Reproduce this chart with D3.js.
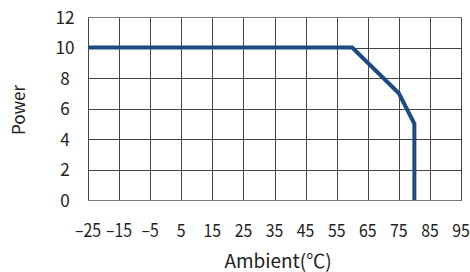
<!DOCTYPE html>
<html>
<head>
<meta charset="utf-8">
<script src="https://cdn.jsdelivr.net/npm/d3@7"></script>
<style>
  body { margin: 0; background: #fff; }
  text { font-family: "Noto Sans CJK SC", "Noto Sans", sans-serif; fill: #222; }
</style>
</head>
<body>
<div id="chart"></div>
<script>
var xTicks = [-25, -15, -5, 5, 15, 25, 35, 45, 55, 65, 75, 85, 95]
var yTicks = [0, 2, 4, 6, 8, 10, 12]
var ambient = [-25, 60, 75, 80, 80]
var power = [10, 10, 7, 5, 0]

var width = 470, height = 272

var x = d3.scaleLinear().domain([-25, 95]).range([88, 461])
var y = d3.scaleLinear().domain([0, 12]).range([200, 17])

var svg = d3.select('#chart').append('svg')
    .attr('width', width)
    .attr('height', height)

// grid
svg.append('g').selectAll('line')
    .data(xTicks)
    .enter()
    .append('line')
    .attr('x1', function (d) { return Math.round(x(d)) + 0.5 })
    .attr('x2', function (d) { return Math.round(x(d)) + 0.5 })
    .attr('y1', y(12))
    .attr('y2', y(0) + 0.5)
    .style('stroke', '#444')
    .style('stroke-width', 1)

svg.append('g').selectAll('line')
    .data(yTicks)
    .enter()
    .append('line')
    .attr('x1', x(-25))
    .attr('x2', x(95) + 1)
    .attr('y1', function (d) { return Math.round(y(d)) + 0.5 })
    .attr('y2', function (d) { return Math.round(y(d)) + 0.5 })
    .style('stroke', function (d) { return (d == 0 || d == 12) ? '#777' : '#444' })
    .style('stroke-width', 1)

// tick labels (font is a bit condensed in the original)
svg.append('g').selectAll('text')
    .data(xTicks)
    .enter()
    .append('text')
    .attr('transform', function (d) { return 'translate(' + x(d) + ',237) scale(0.88,1)' })
    .attr('text-anchor', 'middle')
    .style('font-size', '18px')
    .text(function (d) { return d < 0 ? '\u2013' + Math.abs(d) : d })

svg.append('g').selectAll('text')
    .data(yTicks)
    .enter()
    .append('text')
    .attr('transform', function (d) { return 'translate(65,' + (y(d) + 6.5) + ') scale(0.95,1)' })
    .attr('text-anchor', 'middle')
    .style('font-size', '18px')
    .text(function (d) { return d })

// derating curve
var line = d3.line()
    .x(function (d) { return x(d) })
    .y(function (d, i) { return y(power[i]) })

svg.append('path')
    .datum(ambient)
    .attr('d', line)
    .style('fill', 'none')
    .style('stroke', '#1d4a80')
    .style('stroke-width', 4)
    .style('stroke-linejoin', 'miter')

// axis titles
svg.append('text')
    .attr('x', 278)
    .attr('y', 268)
    .attr('text-anchor', 'middle')
    .style('font-size', '19px')
    .text('Ambient(℃)')

svg.append('text')
    .attr('transform', 'translate(25,110) rotate(-90)')
    .attr('text-anchor', 'middle')
    .style('font-size', '17px')
    .text('Power')
</script>
</body>
</html>
